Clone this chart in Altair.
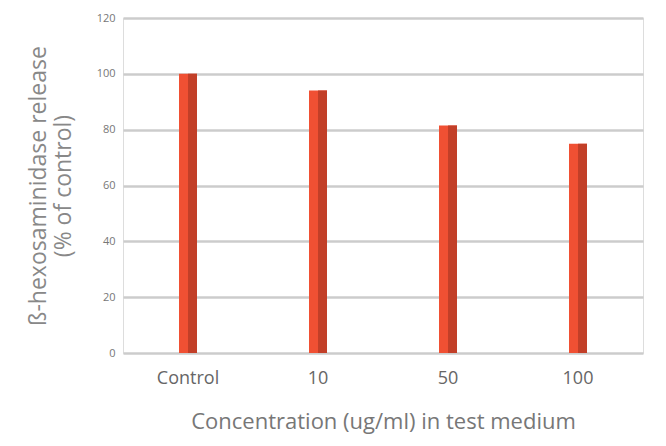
import altair as alt
import pandas as pd

categories = ["Control", "10", "50", "100"]
values = [100, 94, 81.5, 75]

df = pd.DataFrame({"conc": categories, "release": values})

x = alt.X("conc:N", sort=categories,
          scale=alt.Scale(paddingInner=0, paddingOuter=0),
          axis=alt.Axis(title="Concentration (ug/ml) in test medium", labelAngle=0,
                        labelFontSize=18, labelColor="#666", labelPadding=16,
                        titleFontSize=22, titleColor="#777", titleFontWeight="normal",
                        titlePadding=24, ticks=False, domain=False))
y = alt.Y("release:Q",
          scale=alt.Scale(domain=[0, 120]),
          axis=alt.Axis(title=["ß-hexosaminidase release", "(% of control)"],
                        values=[0, 20, 40, 60, 80, 100, 120],
                        labelFontSize=11, labelColor="#777", labelPadding=8,
                        titleFontSize=23, titleColor="#888", titleFontWeight="normal",
                        titleLineHeight=25, titlePadding=21,
                        ticks=False, domain=False,
                        gridColor="#cccccc", gridWidth=2.5))

base = alt.Chart(df)
light = base.mark_bar(size=18, color="#f05033").encode(x=x, y=y)
dark = base.mark_bar(size=9, xOffset=4.5, color="#c23f28").encode(x=x, y=y)

chart = (light + dark).properties(
    width=520, height=335,
    autosize=alt.AutoSizeParams(type="none"),
    padding={"left": 115, "top": 10, "right": 15, "bottom": 85},
).configure_view(stroke=None).configure(font="Open Sans")

chart.save("out.html", embed_options={"renderer": "svg", "actions": False})
